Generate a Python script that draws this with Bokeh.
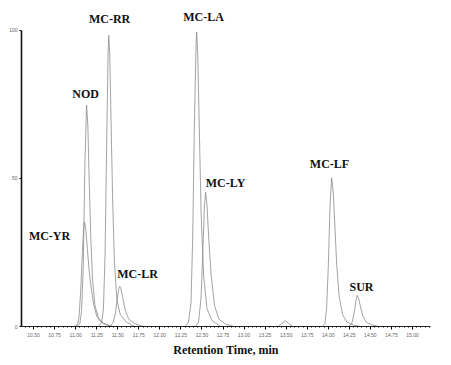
from bokeh.plotting import figure
from bokeh.models import FixedTicker, PrintfTickFormatter, Title, Range1d, ColumnDataSource
from bokeh.core.properties import value
from bokeh.embed import file_html
from bokeh.resources import INLINE
import numpy as np

# ---- data (retention time in min, relative abundance %) ----
base_t = [10.357, 15.214]
base_h = [0, 0]

yr_t = [10.98, 11.02, 11.04, 11.06, 11.08, 11.095, 11.105, 11.12, 11.14, 11.16, 11.18, 11.21, 11.25, 11.30, 11.38, 11.45]
yr_h = [0, 0.5, 3, 12, 25, 33, 35.3, 33, 26, 19, 14, 8, 3.5, 1.5, 0.5, 0]

nod_t = [11.02, 11.05, 11.07, 11.09, 11.11, 11.13, 11.145, 11.16, 11.18, 11.20, 11.23, 11.27, 11.33, 11.42]
nod_h = [0, 1, 5, 20, 55, 74.7, 68, 50, 30, 16, 7, 3, 1, 0]

rr_t = [11.27, 11.31, 11.33, 11.35, 11.37, 11.385, 11.393, 11.405, 11.42, 11.44, 11.46, 11.49, 11.53, 11.60, 11.70]
rr_h = [0, 1.5, 6, 25, 65, 92, 98.3, 92, 70, 42, 22, 9, 4, 1.5, 0]

lr_t = [11.40, 11.44, 11.47, 11.49, 11.51, 11.525, 11.54, 11.56, 11.59, 11.63, 11.70, 11.80]
lr_h = [0, 1, 4, 8.5, 12.5, 13.5, 12.5, 9.5, 5.5, 2.5, 1, 0]

la_t = [12.30, 12.34, 12.37, 12.39, 12.41, 12.43, 12.437, 12.45, 12.47, 12.49, 12.52, 12.56, 12.62, 12.72]
la_h = [0, 1.5, 8, 30, 68, 95, 99.4, 92, 65, 38, 17, 6, 2, 0]

ly_t = [12.42, 12.46, 12.49, 12.51, 12.53, 12.543, 12.56, 12.58, 12.61, 12.65, 12.70, 12.78, 12.88]
ly_h = [0, 1.5, 10, 25, 41, 45.3, 41, 30, 17, 7, 2.5, 0.8, 0]

bump_t = [13.40, 13.45, 13.49, 13.53, 13.58]
bump_h = [0, 1, 2, 1, 0]

lf_t = [13.93, 13.96, 13.98, 14.00, 14.02, 14.04, 14.06, 14.08, 14.10, 14.13, 14.17, 14.22, 14.30, 14.38]
lf_h = [0, 1, 6, 20, 40, 50.2, 45, 33, 21, 10, 4, 1.5, 0.5, 0]

sur_t = [14.24, 14.28, 14.31, 14.33, 14.344, 14.36, 14.38, 14.41, 14.45, 14.52, 14.60]
sur_h = [0, 1, 5, 9, 10.5, 9.5, 7, 3.5, 1.5, 0.5, 0]

label_text = ["NOD", "MC-RR", "MC-LA", "MC-YR", "MC-LR", "MC-LY", "MC-LF", "SUR"]
label_x = [11.118, 11.403, 12.519, 10.690, 11.735, 12.780, 14.015, 14.395]
label_y = [78.4, 103.7, 104.4, 30.4, 17.6, 48.3, 54.7, 13.5]

x_ticks = [10.50, 10.75, 11.00, 11.25, 11.50, 11.75, 12.00, 12.25, 12.50,
           12.75, 13.00, 13.25, 13.50, 13.75, 14.00, 14.25, 14.50, 14.75, 15.00]
y_ticks = [0, 50, 100]

p = figure(width=451, height=365, output_backend="svg", toolbar_location=None,
           x_range=Range1d(10.357, 15.214), y_range=Range1d(0, 106),
           min_border_left=21, min_border_right=21, min_border_top=12, min_border_bottom=39)
p.outline_line_color = None
p.xgrid.visible = False
p.ygrid.visible = False
p.background_fill_color = "white"

trace_color = "#8c8c8c"
p.line(base_t, base_h, line_color="#666666", line_width=1)
for t, h in [(yr_t, yr_h), (nod_t, nod_h), (rr_t, rr_h), (lr_t, lr_h), (la_t, la_h),
             (ly_t, ly_h), (bump_t, bump_h), (lf_t, lf_h), (sur_t, sur_h)]:
    p.line(t, h, line_color=trace_color, line_width=0.8)

src = ColumnDataSource(dict(x=label_x, y=label_y, text=label_text))
p.text(x="x", y="y", text="text", source=src, text_align="center", text_baseline="middle",
       text_font=value("Liberation Serif"), text_font_style="bold", text_font_size="12px",
       text_color="#111111")

# x axis
xa = p.xaxis[0]
xa.ticker = FixedTicker(ticks=x_ticks, minor_ticks=list(np.round(np.arange(10.40, 15.21, 0.05), 2)))
xa.formatter = PrintfTickFormatter(format="%.2f")
xa.major_label_text_font_size = "5px"
xa.major_label_text_color = "#666666"
xa.major_label_standoff = 3
xa.major_tick_out = 3
xa.major_tick_in = 0
xa.minor_tick_out = 1
xa.minor_tick_in = 0
xa.axis_line_color = "#222222"
xa.axis_line_width = 1.2

# y axis
ya = p.yaxis[0]
ya.ticker = FixedTicker(ticks=y_ticks)
ya.bounds = (0, 100)
ya.major_label_text_font_size = "5px"
ya.major_label_text_color = "#666666"
ya.major_label_standoff = 2
ya.major_tick_out = 2
ya.major_tick_in = 0
ya.minor_tick_out = 0
ya.minor_tick_in = 0
ya.axis_line_color = "#111111"
ya.axis_line_width = 1.6

p.add_layout(Title(text="Retention Time, min", align="center", offset=22,
                   text_font="Liberation Serif", text_font_style="bold",
                   text_font_size="12px", text_color="#111111", standoff=2), "below")

open("out.html", "w").write(file_html(p, INLINE))
